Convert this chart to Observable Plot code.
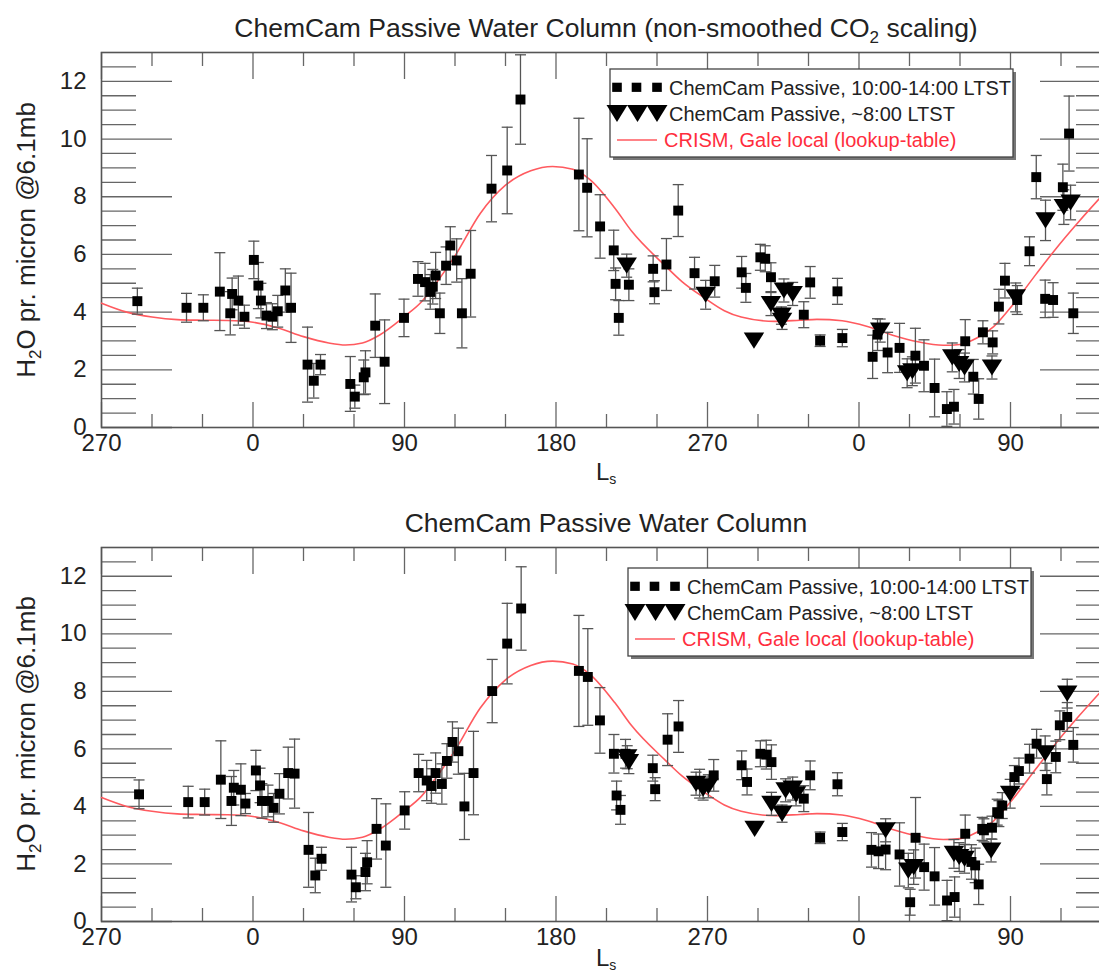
<!DOCTYPE html>
<html><head><meta charset="utf-8">
<script src="https://cdn.jsdelivr.net/npm/d3@7"></script>
<script src="https://cdn.jsdelivr.net/npm/@observablehq/plot@0.6"></script>
<style>
html,body{margin:0;padding:0;overflow:hidden;background:#fff;}
#wrap{position:relative;width:1099px;height:976px;overflow:hidden;font-family:"Liberation Sans",Arial,sans-serif;}
.panel{position:absolute;left:0;width:1120px;}
#overlay{position:absolute;left:0;top:0;pointer-events:none;}
</style></head><body><div id="wrap"></div>
<script>
// ---------- axis tick values / labels (cumulative Ls, degrees) ----------
const xTickValues = [-90, 0, 90, 180, 270, 360, 450];
const xTickLabels = ["270", "0", "90", "180", "270", "0", "90"];
const xMinorTicks = [-60, -30, 30, 60, 120, 150, 210, 240, 300, 330, 390, 420, 480];
const yTickValues = [0, 2, 4, 6, 8, 10, 12];
const yMinorTicks = [0.5, 1, 1.5, 2.5, 3, 3.5, 4.5, 5, 5.5, 6.5, 7, 7.5, 8.5, 9, 9.5, 10.5, 11, 11.5, 12.5];

// ---------- CRISM Gale local (lookup-table) ----------
const crismLs  = [-90,-75,-60,-45,-30,-15,0,15,30,45,55,65,75,90,100,110,120,135,150,165,178,190,200,215,225,245,255,268,280,290,310,325,335,350,365,380,395,410,420,430,440,452,465,477,490,503];
const crismH2O = [4.31,4.0,3.83,3.74,3.72,3.71,3.65,3.45,3.15,2.93,2.86,2.93,3.2,3.85,4.35,5.1,5.95,7.42,8.4,8.9,9.05,8.95,8.6,7.6,6.8,5.6,5.05,4.5,4.05,3.83,3.68,3.72,3.75,3.7,3.5,3.2,2.97,2.85,2.88,3.1,3.5,4.3,5.3,6.2,7.1,7.95];

// ---------- Panel 1 (non-smoothed CO2 scaling): [Ls, H2O, error] ----------
const p1Midday = [
[-68.7,4.38,0.45],[-39.5,4.15,0.5],[-29.5,4.15,0.45],[-19.7,4.71,1.35],[-13.5,3.96,0.75],[-12.4,4.63,0.55],
[-8.7,4.40,0.85],[-5.1,3.84,0.4],[0.5,5.81,0.65],[3.2,4.92,0.8],[4.7,4.40,0.6],[8.0,3.88,0.45],[11.5,3.84,0.45],
[14.7,4.03,0.55],[19.2,4.75,0.75],[22.6,4.15,1.2],[32.4,2.18,1.3],[36.1,1.62,0.6],[40.1,2.18,0.35],[57.8,1.51,0.95],
[60.5,1.07,0.4],[65.8,1.74,0.6],[66.8,1.91,0.75],[72.6,3.53,1.1],[78.2,2.28,1.45],[89.7,3.80,0.65],[98.0,5.15,0.6],
[102.2,5.04,0.65],[105.3,4.70,0.6],[106.8,4.88,0.6],[108.5,5.27,0.8],[111.0,3.96,0.7],[114.7,5.61,0.65],[117.2,6.31,0.65],
[121.0,5.79,0.75],[124.1,3.96,1.2],[129.3,5.33,1.5],[141.7,8.28,1.15],[151.0,8.91,1.5],[158.9,11.37,1.55],[193.6,8.77,1.95],
[198.5,8.31,1.7],[206.2,6.97,1.1],[214.3,6.14,0.7],[215.4,4.98,0.55],[217.3,3.80,0.6],[223.3,4.95,0.55],[237.7,5.50,0.45],
[238.5,4.69,0.4],[245.6,5.65,0.9],[252.6,7.52,0.9],[262.3,5.35,0.55],[274.3,5.07,0.55],[290.3,5.38,0.55],[292.8,4.84,0.5],
[301.4,5.90,0.45],[304.3,5.85,0.45],[307.7,5.21,0.5],[327.2,3.91,0.45],[331.0,5.03,0.55],[336.9,3.01,0.2],[347.2,4.72,0.45],
[350.1,3.10,0.3],[368.1,2.45,0.75],[371.0,3.22,0.55],[377.0,2.60,0.7],[384.1,2.76,0.85],[393.5,2.49,0.95],[398.6,2.14,0.9],
[404.9,1.37,1.0],[412.2,0.64,0.6],[416.4,0.72,0.6],[423.1,2.99,0.75],[427.9,1.76,0.6],[431.1,0.99,0.7],[433.6,3.30,0.4],
[439.4,2.95,0.4],[443.1,4.19,0.6],[446.7,5.09,0.6],[454.0,4.42,0.5],[461.3,6.11,0.5],[465.3,8.68,0.75],[470.6,4.46,0.65],
[475.3,4.42,0.6],[481.1,8.33,0.8],[484.8,10.19,1.3],[487.3,3.96,0.7]
];
const p1Morning = [
[222.0,5.61,0.4],[268.9,4.60,0.5],[297.6,3.01,0],[307.7,4.28,0.4],[313.9,3.88,0.3],[314.3,3.70,0.3],[315.4,4.75,0.4],
[320.6,4.63,0.4],[372.6,3.36,0.4],[388.6,1.88,0.5],[391.7,1.95,0.5],[415.4,2.43,0.5],[419.5,2.20,0.5],[422.7,2.08,0.5],
[439.0,2.08,0.4],[453.1,4.51,0.5],[470.8,7.18,0.7],[481.7,7.64,0.6],[485.7,7.80,0.6]
];

// ---------- Panel 2: [Ls, H2O, error] ----------
const p2Midday = [
[-67.7,4.42,0.5],[-38.5,4.15,0.55],[-28.7,4.15,0.45],[-19.1,4.93,1.35],[-12.8,4.19,0.85],[-11.4,4.65,0.6],[-7.2,4.58,0.9],
[-4.5,4.10,0.35],[1.7,5.25,0.7],[4.2,4.73,0.6],[5.3,4.19,0.6],[8.9,4.19,0.55],[12.2,3.95,0.5],[15.7,4.44,0.7],[20.9,5.16,0.9],
[24.7,5.14,1.2],[33.0,2.49,1.3],[37.0,1.60,0.6],[40.7,2.18,0.4],[58.5,1.63,0.95],[61.1,1.19,0.4],[66.8,1.72,0.65],
[67.8,2.06,0.75],[73.4,3.22,1.05],[78.9,2.64,1.45],[90.1,3.86,0.65],[98.4,5.16,0.65],[103.2,4.90,0.7],[106.0,4.71,0.6],
[108.5,5.16,0.7],[112.2,4.78,0.7],[115.2,5.58,0.6],[118.5,6.24,0.7],[122.0,5.92,0.8],[125.6,4.00,1.15],[131.0,5.16,1.45],
[142.1,8.01,1.1],[151.0,9.66,1.4],[159.3,10.88,1.45],[193.6,8.71,1.93],[198.9,8.50,1.68],[206.1,6.99,1.14],[214.4,5.83,0.67],
[216.0,4.38,0.5],[218.3,3.88,0.5],[221.3,5.83,0.5],[237.5,5.33,0.45],[238.9,4.60,0.4],[246.3,6.32,0.9],[252.8,6.78,0.9],
[265.3,4.79,0.5],[273.7,5.08,0.55],[290.3,5.43,0.5],[293.5,4.85,0.45],[301.4,5.83,0.45],[304.9,5.80,0.5],[308.0,5.54,0.6],
[327.2,4.27,0.45],[331.0,5.08,0.5],[336.9,2.91,0.2],[347.2,4.77,0.4],[350.1,3.11,0.3],[367.4,2.49,0.6],[371.6,2.44,0.6],
[375.8,2.50,0.7],[384.1,2.33,1.1],[390.4,0.67,0.45],[393.6,2.91,1.4],[398.7,1.89,0.8],[404.9,1.57,1.0],[412.3,0.73,0.7],
[416.8,0.85,0.7],[423.1,3.05,0.65],[426.8,2.07,0.6],[429.0,1.95,0.6],[431.1,1.29,0.7],[433.2,3.22,0.4],[434.2,3.17,0.4],
[439.0,3.26,0.4],[442.1,3.80,0.45],[443.1,3.75,0.45],[445.1,4.03,0.45],[452.3,5.02,0.4],[455.0,5.23,0.45],[461.3,5.66,0.5],
[465.5,6.18,0.5],[471.6,4.95,0.55],[476.9,5.72,0.55],[479.3,6.82,0.5],[483.7,7.11,0.5],[487.3,6.14,0.6]
];
const p2Morning = [
[222.3,5.71,0.4],[223.3,5.54,0.4],[263.2,4.79,0.4],[267.4,4.62,0.4],[270.5,4.70,0.4],[298.0,3.22,0],[308.0,4.09,0.4],
[314.3,3.75,0.3],[316.4,4.56,0.4],[320.6,4.62,0.4],[322.6,4.42,0.4],[375.8,3.17,0.4],[389.3,1.77,0.6],[392.5,1.89,0.6],
[416.4,2.35,0.5],[419.5,2.24,0.5],[422.7,2.18,0.5],[438.5,2.47,0.4],[449.8,4.44,0.5],[470.6,5.85,0.6],[483.7,7.92,0.5]
];

const titles = ["ChemCam Passive Water Column (non-smoothed CO", "ChemCam Passive Water Column"];
const legendLabels = ["ChemCam Passive, 10:00-14:00 LTST", "ChemCam Passive, ~8:00 LTST", "CRISM, Gale local (lookup-table)"];

// ---------- styling ----------
const FONT = "'Liberation Sans', Arial, Helvetica, sans-serif";
const RED = "#ff5a5f";
const AXIS = "#555";
const crism = crismLs.map((ls, i) => ({ls, h: crismH2O[i]}));
const capSymbol = {draw(ctx, size) { const w = Math.sqrt(size); ctx.moveTo(-w / 2, 0); ctx.lineTo(w / 2, 0); }};
const triDown = {draw(ctx, size) { const s = Math.sqrt(size); const w = 1.65 * s, h = 1.3 * s;
  ctx.moveTo(-w / 2, -h / 2); ctx.lineTo(w / 2, -h / 2); ctx.lineTo(0, h / 2); ctx.closePath(); }};

function panel(midday, morning, height, mt, mb) {
  const W = 1120, ml = 101, mr = 9;
  const fw = W - ml - mr, fh = height - mt - mb;
  const sq = midday.map(([ls, h, e]) => ({ls, h, e}));
  const tr = morning.map(([ls, h, e]) => ({ls, h, e}));
  const errs = sq.concat(tr).filter(d => d.e > 0);
  const tickStyle = {stroke: "#666", strokeWidth: 1.3};
  return Plot.plot({
    width: W, height, marginLeft: ml, marginRight: mr, marginTop: mt, marginBottom: mb,
    x: {domain: [-90, 510]},
    y: {domain: [0, 13]},
    style: {fontFamily: FONT, fontSize: "24px", color: "#222", background: "transparent", maxWidth: "none", overflow: "visible"},
    marks: [
      Plot.tickY(yTickValues, {...tickStyle, insetRight: fw - 71}),
      Plot.tickY(yTickValues, {...tickStyle, insetLeft: fw - 71}),
      Plot.tickY(yMinorTicks, {...tickStyle, insetRight: fw - 35}),
      Plot.tickY(yMinorTicks, {...tickStyle, insetLeft: fw - 35}),
      Plot.tickX(xTickValues, {...tickStyle, insetTop: fh - 25}),
      Plot.tickX(xTickValues, {...tickStyle, insetBottom: fh - 27}),
      Plot.tickX(xMinorTicks, {...tickStyle, insetTop: fh - 13}),
      Plot.tickX(xMinorTicks, {...tickStyle, insetBottom: fh - 14}),
      Plot.frame({stroke: AXIS, strokeWidth: 1.6}),
      Plot.axisY(yTickValues, {anchor: "left", tickSize: 0, tickPadding: 15, label: null}),
      Plot.axisX(xTickValues, {anchor: "bottom", tickSize: 0, tickPadding: 6, label: null,
        tickFormat: d => xTickLabels[xTickValues.indexOf(d)]}),
      Plot.line(crism, {x: "ls", y: "h", stroke: RED, strokeWidth: 1.6, curve: "monotone-x"}),
      Plot.ruleX(errs, {x: "ls", y1: d => d.h - d.e, y2: d => d.h + d.e, stroke: AXIS, strokeWidth: 1.3}),
      Plot.dot(errs, {x: "ls", y: d => d.h + d.e, symbol: capSymbol, r: 6.2, fill: "none", stroke: AXIS, strokeWidth: 1.3}),
      Plot.dot(errs, {x: "ls", y: d => d.h - d.e, symbol: capSymbol, r: 6.2, fill: "none", stroke: AXIS, strokeWidth: 1.3}),
      Plot.dot(sq, {x: "ls", y: "h", symbol: "square", r: 5.6, fill: "#000", stroke: "none"}),
      Plot.dot(tr, {x: "ls", y: "h", symbol: triDown, r: 7, fill: "#000", stroke: "none"})
    ]
  });
}

const wrap = document.getElementById("wrap");
const d1 = document.createElement("div"); d1.className = "panel"; d1.style.top = "0px";
d1.appendChild(panel(p1Midday, p1Morning, 490, 52, 63));
wrap.appendChild(d1);
const d2 = document.createElement("div"); d2.className = "panel"; d2.style.top = "490px";
d2.appendChild(panel(p2Midday, p2Morning, 486, 57, 55));
wrap.appendChild(d2);

// ---------- titles, axis labels, legends ----------
const svg = d3.select(wrap).append("svg").attr("id", "overlay")
  .attr("width", 1099).attr("height", 976).style("font-family", FONT);

const t1 = svg.append("text").attr("x", 606).attr("y", 37).attr("text-anchor", "middle")
  .attr("font-size", 26.5).attr("fill", "#222");
t1.append("tspan").text(titles[0]);
t1.append("tspan").attr("font-size", 17).attr("dy", 6).text("2");
t1.append("tspan").attr("dy", -6).text(" scaling)");
svg.append("text").attr("x", 606).attr("y", 532).attr("text-anchor", "middle")
  .attr("font-size", 26.5).attr("fill", "#222").text(titles[1]);

for (const cy of [240, 734]) {
  const t = svg.append("text").attr("transform", `translate(35,${cy}) rotate(-90)`)
    .attr("text-anchor", "middle").attr("font-size", 26).attr("fill", "#222");
  t.append("tspan").text("H");
  t.append("tspan").attr("font-size", 17).attr("dy", 6).text("2");
  t.append("tspan").attr("dy", -6).text("O pr. micron @6.1mb");
}
for (const by of [480, 966]) {
  const t = svg.append("text").attr("x", 596).attr("y", by).attr("font-size", 24).attr("fill", "#222");
  t.append("tspan").text("L");
  t.append("tspan").attr("font-size", 14).attr("dy", 4).text("s");
}

function legend(dx, dy) {
  const g = svg.append("g").attr("transform", `translate(${dx},${dy})`);
  g.append("rect").attr("x", 3).attr("y", 3).attr("width", 403).attr("height", 88).attr("fill", "#777");
  g.append("rect").attr("x", 0).attr("y", 0).attr("width", 403).attr("height", 88)
    .attr("fill", "#fff").attr("stroke", "#444").attr("stroke-width", 1.3);
  for (const cx of [7, 26.5, 47]) {
    g.append("rect").attr("x", cx - 4.8).attr("y", 18.3 - 4.6).attr("width", 9.6).attr("height", 9.2).attr("fill", "#000");
  }
  for (const cx of [7, 27.5, 47]) {
    g.append("path").attr("d", `M${cx - 10.5},36 L${cx + 10.5},36 L${cx},53 Z`).attr("fill", "#000");
  }
  g.append("line").attr("x1", 7).attr("x2", 47).attr("y1", 71).attr("y2", 71).attr("stroke", RED).attr("stroke-width", 1.6);
  g.append("text").attr("x", 59).attr("y", 25.5).attr("font-size", 20).attr("fill", "#222").text(legendLabels[0]);
  g.append("text").attr("x", 59).attr("y", 51.5).attr("font-size", 20).attr("fill", "#222").text(legendLabels[1]);
  g.append("text").attr("x", 54).attr("y", 78).attr("font-size", 20).attr("fill", "#ff2d3d").text(legendLabels[2]);
}
legend(610, 69);
legend(628, 568);
</script>
</body></html>
